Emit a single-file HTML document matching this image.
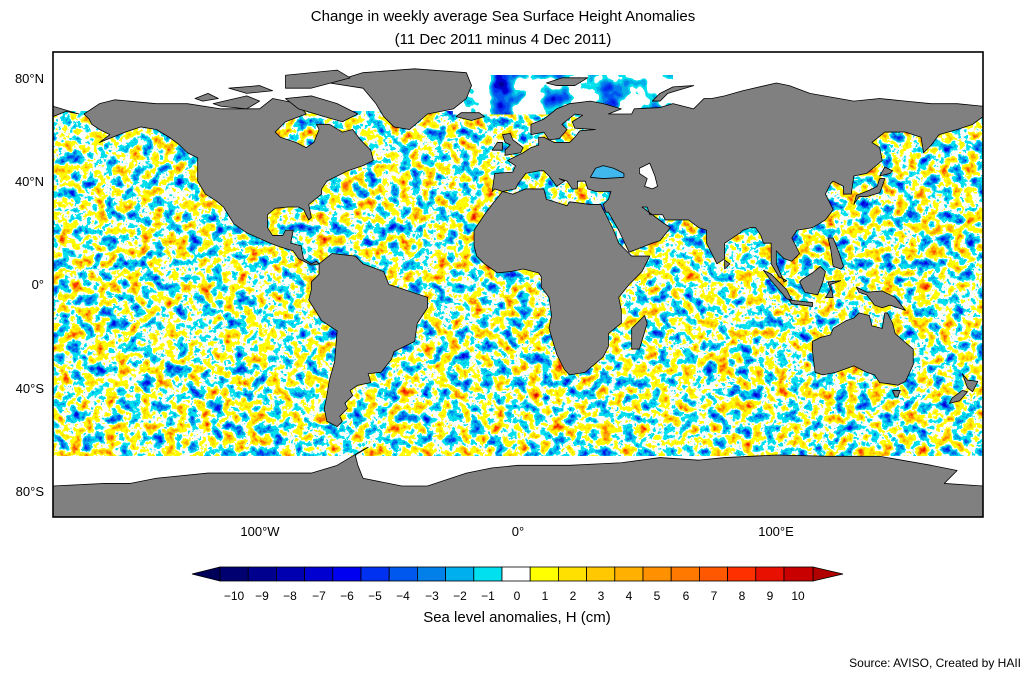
<!DOCTYPE html>
<html><head><meta charset="utf-8"><style>
body{margin:0;background:#fff;}
svg{display:block;font-family:"Liberation Sans",sans-serif;}
</style></head><body>
<svg width="1035" height="676" viewBox="0 0 1035 676" xmlns="http://www.w3.org/2000/svg">
<defs>
<filter id="ssh" x="0" y="0" width="100%" height="100%" color-interpolation-filters="sRGB">
<feTurbulence type="fractalNoise" baseFrequency="0.085" numOctaves="4" seed="7"/>
<feColorMatrix type="matrix" values="1 0 0 0 0  1 0 0 0 0  1 0 0 0 0  0 0 0 0 1"/>
<feComponentTransfer>
<feFuncR type="discrete" tableValues="0 0 0 0 0 0 0 0 0 1 1 1 1 1 1 1 1 0.9 0.8 0.7"/>
<feFuncG type="discrete" tableValues="0 0 0 0.1 0.25 0.45 0.65 0.88 0.88 1 1 1 1 0.85 0.65 0.45 0.25 0.1 0 0"/>
<feFuncB type="discrete" tableValues="0.5 0.7 0.85 0.94 0.94 0.91 0.93 0.93 0.93 1 1 0 0 0 0 0 0 0 0 0"/>
</feComponentTransfer>
</filter>
<filter id="arc" x="0" y="0" width="100%" height="100%" color-interpolation-filters="sRGB">
<feTurbulence type="fractalNoise" baseFrequency="0.1" numOctaves="3" seed="3"/>
<feColorMatrix type="matrix" values="1 0 0 0 0  1 0 0 0 0  1 0 0 0 0  0 0 0 0 1"/>
<feComponentTransfer>
<feFuncR type="discrete" tableValues="0 0 0 0 0 0 0 0 0 0 1 1 1 1 1 1 1 1 1 1"/>
<feFuncG type="discrete" tableValues="0 0 0 0 0 0.19 0.33 0.5 0.69 0.88 1 1 1 1 1 1 1 1 1 1"/>
<feFuncB type="discrete" tableValues="0.44 0.63 0.63 0.82 0.82 0.94 0.94 0.93 0.91 0.93 1 1 1 1 1 1 1 1 1 1"/>
</feComponentTransfer>
</filter>
<clipPath id="mapclip"><rect x="53" y="52" width="930" height="465"/></clipPath>
</defs>

<text x="503" y="21" font-size="15" text-anchor="middle">Change in weekly average Sea Surface Height Anomalies</text>
<text x="503" y="44" font-size="15" text-anchor="middle">(11 Dec 2011 minus 4 Dec 2011)</text>

<g clip-path="url(#mapclip)">
<rect x="53" y="52" width="930" height="465" fill="#fff"/>
<rect x="53" y="111" width="930" height="345" filter="url(#ssh)"/>
<g transform="translate(518,284.5) scale(2.5833,-2.5833)">
<polygon points="-25,66 60,66 60,80 10,81 -5,75 -20,70" fill="#000" filter="url(#arc)"/>
</g>
<g transform="translate(518,284.5) scale(2.5833,-2.5833)" fill="#808080" stroke="#000" stroke-width="0.8" stroke-linejoin="round">
<g>
<polygon vector-effect="non-scaling-stroke" points="-168,66 -162,70 -156,71.5 -140,70 -128,70 -115,68 -100,68 -95,72 -85,70 -82,66 -90,63 -94,59 -92,57 -86,55 -82,53 -79,55 -77,60 -78,62 -73,62 -68,59 -64,60 -61,56 -57,52 -56,48 -60,46 -66,44 -70,42 -74,40 -76,37 -76,35 -81,31 -80,26 -81,25 -83,29 -85,30 -89,30 -94,29.5 -97,27 -97,22 -95,19 -91,19 -90,21 -87,21 -88,16 -84,15 -83,10 -80,8 -78,9 -77,8 -80,7.5 -85,10 -87,13 -92,14.5 -96,16 -105,20 -110,23.5 -114,30 -117,32.5 -121,35 -124,40 -124,46 -124,49 -128,51 -131,54 -135,57 -140,60 -146,61 -152,59 -157,57 -162,55 -158,58 -162,60 -165,62 -166,64"/>
<polygon vector-effect="non-scaling-stroke" points="-73,78 -60,82 -40,83.5 -20,82 -18,77 -20,72 -25,68 -35,66 -42,60 -48,61 -52,65 -55,70 -60,76"/>
<polygon vector-effect="non-scaling-stroke" points="-90,72 -80,73 -70,70 -62,66 -68,63 -75,65 -85,68"/>
<polygon vector-effect="non-scaling-stroke" points="-90,76 -80,76 -65,80 -70,83 -90,81"/>
<polygon vector-effect="non-scaling-stroke" points="-118,70 -105,73 -100,71 -105,68 -115,69"/>
<polygon vector-effect="non-scaling-stroke" points="-125,72 -120,74 -116,72 -122,71"/>
<polygon vector-effect="non-scaling-stroke" points="-112,76 -100,77 -95,75 -105,74"/>
<polygon vector-effect="non-scaling-stroke" points="-77,8 -72,12 -63,11 -60,8 -52,5 -50,0 -44,-2 -35,-5 -35,-9 -39,-15 -40,-22 -48,-26 -49,-29 -53,-34 -58,-34.5 -57,-38 -62,-39 -65,-41 -64,-43 -67,-46 -66,-48 -69,-51 -68,-53 -70,-55 -74,-53 -75,-48 -74,-43 -73,-37 -71,-30 -70,-18 -76,-14 -81,-6 -80,-2 -80,1 -77,4"/>
<polygon vector-effect="non-scaling-stroke" points="-17,21 -17,15 -16,11 -13,8 -8,4.5 -3,5 2,6 8,4.5 9,3 9,-1 12,-5 13,-12 12,-17 15,-27 18,-33 20,-35 26,-34 33,-28 35,-24 35,-19 40,-15 40,-10 39,-5 43,0 48,5 51,11 44,11 43,12 39,16 37,21 34,27 32,31 28,31 20,32 19,30.5 11,33 10,37 3,37 -2,35 -6,36 -10,31 -13,27"/>
<polygon vector-effect="non-scaling-stroke" points="44,-25 47,-25 50,-15 49,-12 44,-17"/>
<polygon vector-effect="non-scaling-stroke" points="-10,36 -9,43 -2,43.5 -1,46 -4,48 2,51 5,53 8,54 8,57 10,57 12,56 14,55 20,55 22,57 24,59.5 30,60 22,60.5 21,63 25,65.5 22,66 17,62 19,60 16,56.5 12,56 10,59 5,58 5,62 10,64 15,68 20,70 28,71 33,70 40,68 35,66 44,66 45,68 55,68.5 60,70 68,68 72,72 75,72 80,73 87,75 100,78 105,77 113,74 130,71 140,72 150,71 160,70 170,70 180,69 180,65 176,62 170,60 163,58 160,54 157,51 156,57 150,59 142,59 137,55 140,53 141,48 135,43 130,42 129,35 126,35 126,38 122,40 121,39 119,35 121,31 122,29 119,25 114,22 108,21 106,18 109,12 106,9 103,10 100,13 100,8 103,1 104,1.5 101,3 98,8 98,16 95,16 94,19 92,22 90,22 87,21 86,20 80,16 80,10 77,8 73,16 73,21 70,22 66,25 57,25 56,27 51,27 50,30 48,30 56,24 59,22 55,17 52,16 43,12.5 39,21 35,28 34,28 33,31 35,33 36,36 30,36 27,37 26,40 23,40 23,37 21,37 19,40 16,41 18,40 15,38 12,42 10,44 8,44 3,43 0,39 -1,37 -6,36 -9,37"/>
<polygon vector-effect="non-scaling-stroke" points="-180,65 -175,67 -170,66 -180,69"/>
<polygon vector-effect="non-scaling-stroke" points="-5,50 1,51 2,53 -2,56 -3,58.5 -6,58 -5,55 -3,54 -5,52"/>
<polygon vector-effect="non-scaling-stroke" points="-10,52 -6,52 -6,55 -8,55"/>
<polygon vector-effect="non-scaling-stroke" points="-24,65 -22,66.5 -15,66.5 -13,65 -18,63.5"/>
<polygon vector-effect="non-scaling-stroke" points="11,78 17,80 27,80 22,77 15,77"/>
<polygon vector-effect="non-scaling-stroke" points="52,71 55,74 60,76.5 68,77 58,74 55,71"/>
<polygon vector-effect="non-scaling-stroke" points="130,31 132,34 135,34 140,35.5 141,38 142,41 140,41 139,38 136,36.5 131,34.5"/>
<polygon vector-effect="non-scaling-stroke" points="140,42 144,43 145,44 142,45.5"/>
<polygon vector-effect="non-scaling-stroke" points="120,18 122,18 124,13 126,7 125,6 122,7 121,14"/>
<polygon vector-effect="non-scaling-stroke" points="95,5.5 98,4 104,-2 106,-6 104,-5.5 101,-2 98,1.5"/>
<polygon vector-effect="non-scaling-stroke" points="105,-6 114,-7 114,-8.5 106,-7.5"/>
<polygon vector-effect="non-scaling-stroke" points="109,1 111,-3 116,-4 118,1 119,5 117,7 114,4.5 110,2"/>
<polygon vector-effect="non-scaling-stroke" points="119,-5 121,-2 120,1 125,1.5 121,0 122,-5"/>
<polygon vector-effect="non-scaling-stroke" points="131,-1 135,-3 141,-2.5 146,-5 150,-10 144,-8 141,-9 138,-8 135,-4 132,-3"/>
<polygon vector-effect="non-scaling-stroke" points="114,-22 114,-26 115,-34 118,-35 123,-34 130,-31.5 135,-34 138,-35 140,-38 144,-38.5 147,-39 150,-37.5 153,-31 153,-25 150,-22.5 146,-19 145,-15 143,-11 142,-11 141,-17 137,-16 136,-12 132,-11 130,-13 127,-14 122,-17 121,-19.5 117,-20.5"/>
<polygon vector-effect="non-scaling-stroke" points="145,-41 148,-41 147,-43.5 146,-43.5"/>
<polygon vector-effect="non-scaling-stroke" points="172,-34.5 174,-37 178,-37.5 176,-41.5 174,-40"/>
<polygon vector-effect="non-scaling-stroke" points="172,-41 174,-41.5 171,-45 167,-46 168,-44"/>
<polygon vector-effect="non-scaling-stroke" points="80,6 80,9.5 82,8"/>
<polygon vector-effect="non-scaling-stroke" points="-180,-90 -180,-78 -160,-77 -150,-77 -140,-75 -120,-73 -100,-73 -80,-73 -70,-70 -60,-64 -58,-63 -63,-66 -62,-70 -60,-75 -45,-78 -35,-78 -20,-73 -10,-71 0,-70 20,-70 40,-69 55,-67 70,-68 80,-67 100,-66 120,-66.5 140,-66.5 160,-70 170,-72 165,-77 180,-78 180,-90"/>
<polygon vector-effect="non-scaling-stroke" points="28,41.5 33,41 41,41.5 41,43 37,45 33,46 30,45" fill="#40b8ee"/>
<polygon vector-effect="non-scaling-stroke" points="47,45 51,47 53,42 54,38 52,37 49,38 50,41 47,43" fill="#fff"/>
</g>
</g>
</g>
<rect x="53" y="52" width="930" height="465" fill="none" stroke="#000" stroke-width="1.6"/>

<g font-size="13" text-anchor="end">
<text x="44" y="83">80°N</text>
<text x="44" y="186">40°N</text>
<text x="44" y="289">0°</text>
<text x="44" y="393">40°S</text>
<text x="44" y="496">80°S</text>
</g>
<g font-size="13" text-anchor="middle">
<text x="260" y="536">100°W</text>
<text x="518" y="536">0°</text>
<text x="776" y="536">100°E</text>
</g>

<g stroke="#000" stroke-width="0.8">
<polygon points="192,574 220,567 220,581" fill="#00005a"/>
<polygon points="843,574 813,567 813,581" fill="#b00000"/>
<rect x="220" y="567" width="28.2" height="14" fill="#000070"/>
<rect x="248.2" y="567" width="28.2" height="14" fill="#00008f"/>
<rect x="276.4" y="567" width="28.2" height="14" fill="#0000b0"/>
<rect x="304.6" y="567" width="28.2" height="14" fill="#0000d0"/>
<rect x="332.8" y="567" width="28.2" height="14" fill="#0000f0"/>
<rect x="361" y="567" width="28.2" height="14" fill="#0030f0"/>
<rect x="389.2" y="567" width="28.2" height="14" fill="#0058ee"/>
<rect x="417.4" y="567" width="28.2" height="14" fill="#0080e8"/>
<rect x="445.6" y="567" width="28.2" height="14" fill="#00b0ee"/>
<rect x="473.8" y="567" width="28.2" height="14" fill="#00e0ee"/>
<rect x="502" y="567" width="28.2" height="14" fill="#ffffff"/>
<rect x="530.2" y="567" width="28.2" height="14" fill="#ffff00"/>
<rect x="558.4" y="567" width="28.2" height="14" fill="#ffe000"/>
<rect x="586.6" y="567" width="28.2" height="14" fill="#ffc800"/>
<rect x="614.8" y="567" width="28.2" height="14" fill="#ffb000"/>
<rect x="643" y="567" width="28.2" height="14" fill="#ff9000"/>
<rect x="671.2" y="567" width="28.2" height="14" fill="#ff7800"/>
<rect x="699.4" y="567" width="28.2" height="14" fill="#ff5800"/>
<rect x="727.6" y="567" width="28.2" height="14" fill="#ff3000"/>
<rect x="755.8" y="567" width="28.2" height="14" fill="#e81000"/>
<rect x="784" y="567" width="29" height="14" fill="#c80000"/>
</g>
<g font-size="12" text-anchor="middle">
<text x="234" y="600">−10</text><text x="262" y="600">−9</text><text x="290" y="600">−8</text>
<text x="319" y="600">−7</text><text x="347" y="600">−6</text><text x="375" y="600">−5</text>
<text x="403" y="600">−4</text><text x="432" y="600">−3</text><text x="460" y="600">−2</text>
<text x="488" y="600">−1</text><text x="517" y="600">0</text><text x="545" y="600">1</text>
<text x="573" y="600">2</text><text x="601" y="600">3</text><text x="629" y="600">4</text>
<text x="657" y="600">5</text><text x="686" y="600">6</text><text x="714" y="600">7</text>
<text x="742" y="600">8</text><text x="770" y="600">9</text><text x="798" y="600">10</text>
</g>
<text x="517" y="622" font-size="15" text-anchor="middle">Sea level anomalies, H (cm)</text>
<text x="1021" y="667" font-size="12" text-anchor="end">Source: AVISO, Created by HAII</text>
</svg>
</body></html>
